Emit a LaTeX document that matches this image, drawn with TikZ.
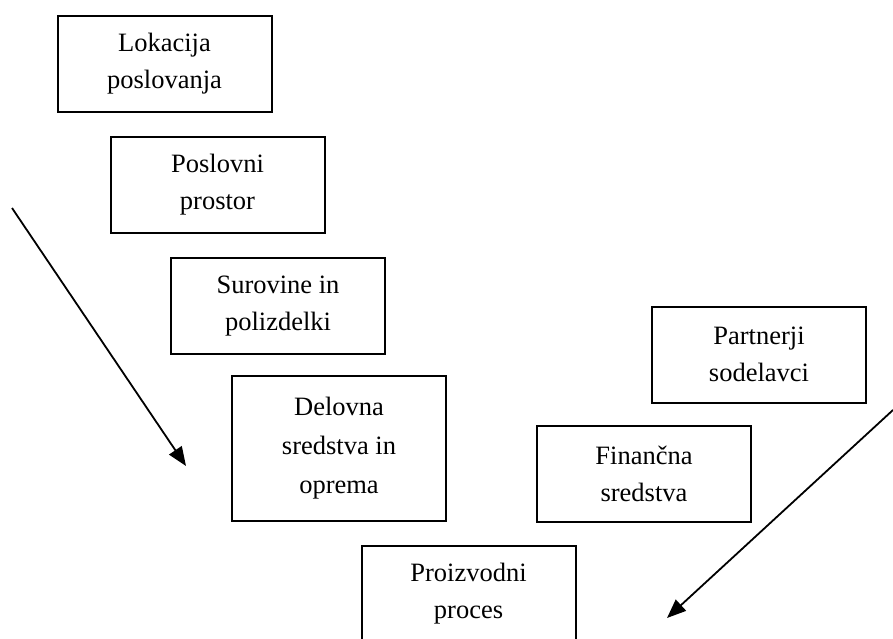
\documentclass[tikz,border=0pt]{standalone}
\usepackage{fontspec}
\setmainfont{Liberation Serif}
\usetikzlibrary{arrows.meta}
\begin{document}
\begin{tikzpicture}[x=1pt,y=-1pt,
  box/.style={draw=black, line width=2pt, minimum width=214pt, minimum height=96pt,
    inner sep=0pt, align=center, font=\fontsize{26.5}{37}\selectfont},
  tallbox/.style={box, minimum height=145pt, font=\fontsize{26.5}{39}\selectfont},
  arr/.style={line width=1.8pt, -{Triangle[length=19pt,width=15pt]}}]
\useasboundingbox (0,0) rectangle (893,639);
\fill[white] (0,0) rectangle (893,639);
\node[box] (lok) at (164.5,64) {Lokacija\\poslovanja};
\node[box] (pos) at (217.5,185) {Poslovni\\prostor};
\node[box] (sur) at (278,306) {Surovine in\\polizdelki};
\node[tallbox] (del) at (339,448) {Delovna\\sredstva in\\oprema};
\node[box] (fin) at (644,474) {Finančna\\sredstva};
\node[box] (par) at (759,354.5) {Partnerji\\sodelavci};
\node[box] (pro) at (468.5,594) {Proizvodni\\proces};
\coordinate (a1s) at (12,208);
\coordinate (a1e) at (186,466);
\coordinate (a2s) at (893,410);
\coordinate (a2e) at (667,618);
\draw[arr] (a1s) -- (a1e);
\draw[arr] (a2s) -- (a2e);
\end{tikzpicture}
\end{document}
